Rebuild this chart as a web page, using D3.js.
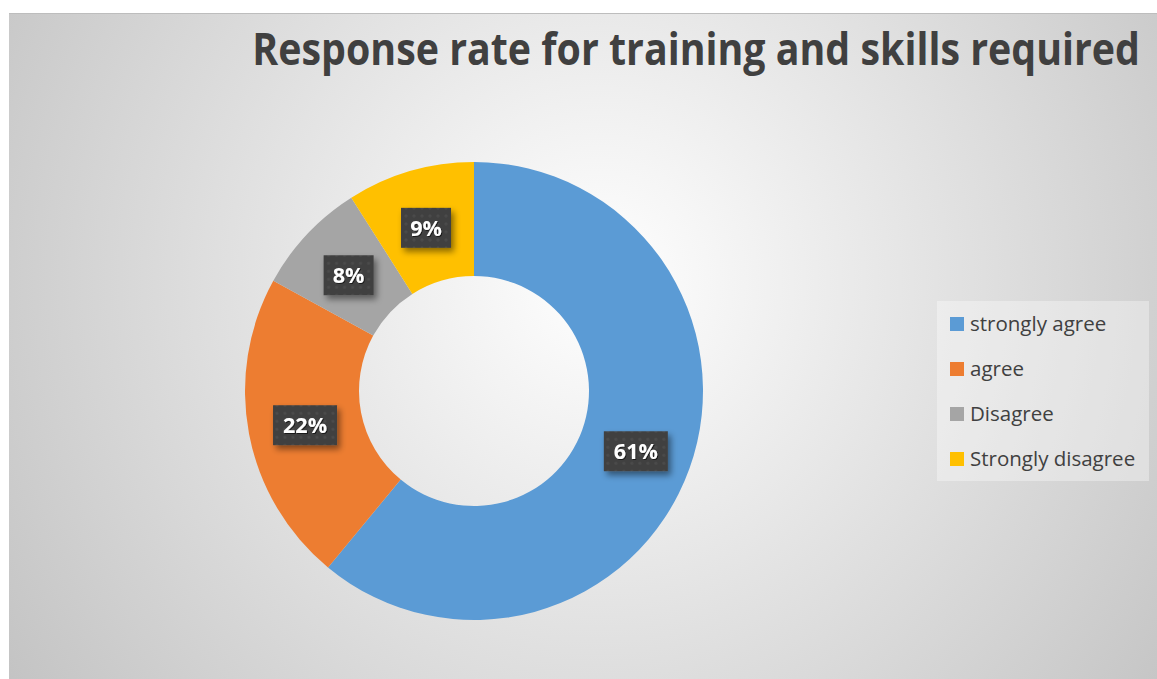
<!DOCTYPE html>
<html>
<head>
<meta charset="utf-8">
<script src="https://cdn.jsdelivr.net/npm/d3@7"></script>
<style>
  body { margin: 0; background: #fff; }
  svg { display: block; }
</style>
</head>
<body>
<svg id="chart" width="1157" height="679"></svg>
<script>
// Chart data
var categories = ["strongly agree", "agree", "Disagree", "Strongly disagree"];
var values = [61, 22, 8, 9];
var colors = ["#5B9BD5", "#ED7D31", "#A5A5A5", "#FFC000"];
var title = "Response rate for training and skills required";

var svg = d3.select("#chart");
var width = +svg.attr("width"),
    height = +svg.attr("height");

var defs = svg.append("defs");

// background gradient (light in the middle, grey at the edges)
var grad = defs.append("radialGradient")
    .attr("id", "bg")
    .attr("gradientUnits", "userSpaceOnUse")
    .attr("cx", 600).attr("cy", 280).attr("r", 720);
grad.append("stop").attr("offset", "0%").attr("stop-color", "#ffffff");
grad.append("stop").attr("offset", "100%").attr("stop-color", "#c3c3c3");

// dotted pattern for the data labels
var pat = defs.append("pattern")
    .attr("id", "dots")
    .attr("patternUnits", "userSpaceOnUse")
    .attr("width", 8).attr("height", 8);
pat.append("rect").attr("width", 8).attr("height", 8).attr("fill", "#404040");
pat.append("circle").attr("cx", 4).attr("cy", 4).attr("r", 1.6).attr("fill", "#4b4b4b");

var shadow = defs.append("filter").attr("id", "shadow")
    .attr("x", "-30%").attr("y", "-30%").attr("width", "170%").attr("height", "180%");
shadow.append("feDropShadow")
    .attr("dx", 3).attr("dy", 4).attr("stdDeviation", 3)
    .attr("flood-color", "#000").attr("flood-opacity", 0.45);

var textShadow = defs.append("filter").attr("id", "tshadow");
textShadow.append("feDropShadow")
    .attr("dx", 1).attr("dy", 1).attr("stdDeviation", 0.6)
    .attr("flood-color", "#000").attr("flood-opacity", 0.6);

// chart area
svg.append("rect")
    .attr("x", 9).attr("y", 13)
    .attr("width", width - 9).attr("height", height - 13)
    .attr("fill", "url(#bg)");
svg.append("line")
    .attr("x1", 9).attr("x2", width)
    .attr("y1", 13.5).attr("y2", 13.5)
    .attr("stroke", "#bdbdbd");

// Title: narrow it horizontally so it spans the same width as the original
var titleG = svg.append("g");
var titleText = titleG.append("text")
    .attr("x", 0).attr("y", 0)
    .attr("text-anchor", "end")
    .attr("font-family", "'Open Sans', 'Noto Sans', sans-serif")
    .attr("font-weight", "bold")
    .attr("font-size", 45)
    .attr("fill", "#404040")
    .text(title);
var tw = titleText.node().getComputedTextLength();
var sx = Math.min(1, 888 / tw);
titleG.attr("transform", "translate(1140,65) scale(" + sx + ",1)");

// Donut
var cx = 474, cy = 391, outerR = 229, innerR = 115;

var pie = d3.pie().sort(null).value(function(d) { return d; });
var arcs = pie(values);

var arc = d3.arc().innerRadius(innerR).outerRadius(outerR);
var labelArc = d3.arc().innerRadius(172).outerRadius(172);

var g = svg.append("g").attr("transform", "translate(" + cx + "," + cy + ")");

g.selectAll("path.slice")
    .data(arcs)
    .enter()
    .append("path")
    .attr("class", "slice")
    .attr("d", arc)
    .attr("fill", function(d, i) { return colors[i]; });

// data labels
var labels = g.selectAll("g.label")
    .data(arcs)
    .enter()
    .append("g")
    .attr("class", "label")
    .attr("transform", function(d) {
        var c = labelArc.centroid(d);
        return "translate(" + c[0] + "," + (c[1] + 2) + ")";
    });

labels.append("rect")
    .attr("x", function(d) { return d.data >= 10 ? -32 : -25; })
    .attr("y", -20)
    .attr("width", function(d) { return d.data >= 10 ? 64 : 50; })
    .attr("height", 40)
    .attr("fill", "url(#dots)")
    .attr("filter", "url(#shadow)");

labels.append("text")
    .attr("text-anchor", "middle")
    .attr("dy", "0.36em")
    .attr("font-family", "'Open Sans', 'Noto Sans', sans-serif")
    .attr("font-weight", "bold")
    .attr("font-size", 21.5)
    .attr("fill", "#fff")
    .attr("filter", "url(#tshadow)")
    .text(function(d) { return d.data + "%"; });

// Legend
var legend = svg.append("g").attr("transform", "translate(937,301)");
legend.append("rect")
    .attr("width", 212).attr("height", 180)
    .attr("fill", "#ffffff").attr("fill-opacity", 0.35);

var rowY = d3.scalePoint()
    .domain(categories)
    .range([23, 158]);

var items = legend.selectAll("g.item")
    .data(categories)
    .enter()
    .append("g")
    .attr("class", "item")
    .attr("transform", function(d) { return "translate(0," + rowY(d) + ")"; });

items.append("rect")
    .attr("x", 13).attr("y", -7)
    .attr("width", 14).attr("height", 14)
    .attr("fill", function(d, i) { return colors[i]; });

items.append("text")
    .attr("x", 33)
    .attr("dy", "0.35em")
    .attr("font-family", "'Open Sans', 'Noto Sans', sans-serif")
    .attr("font-size", 20.5)
    .attr("fill", "#404040")
    .text(function(d) { return d; });
</script>
</body>
</html>
